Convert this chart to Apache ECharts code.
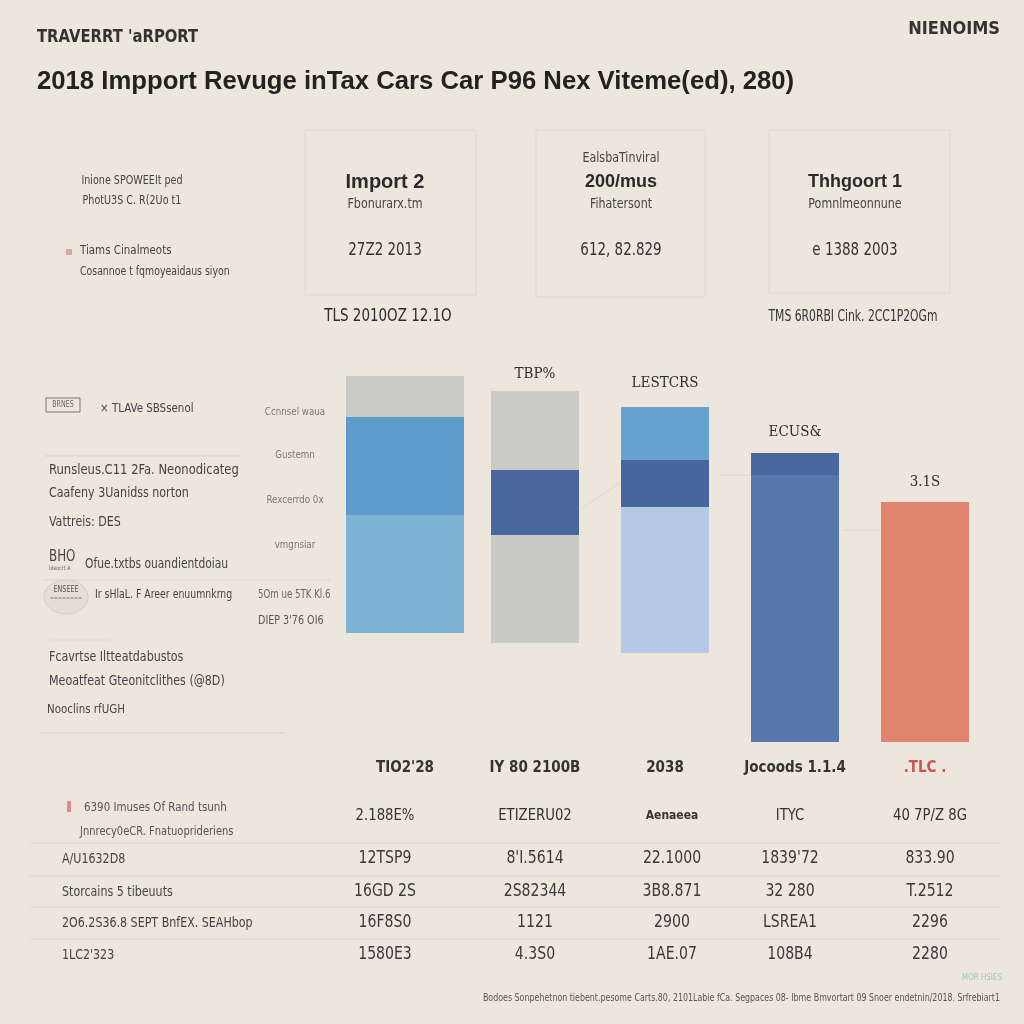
<!DOCTYPE html>
<html><head><meta charset="utf-8">
<script src="https://cdn.jsdelivr.net/npm/echarts@6/dist/echarts.min.js"></script>
<style>html,body{margin:0;background:#ede6dd}#c{width:1024px;height:1024px}</style>
</head><body><div id="c"></div>
<script>
// ---------- data ----------
const categories = ["TIO2'28", 'IY 80 2100B', '2038', 'Jocoods 1.1.4', '.TLC .'];
const baseValues = [27.25, 24.75, 22.25, 0, 0];
const segLower = [29.5, 27, 36.5, 66.75, 60];
const segMiddle = [24.5, 16.25, 11.75, 5.5, null];
const segUpper = [10.25, 19.75, 13.25, null, null];
const barTopLabels = ['', 'TBP%', 'LESTCRS', 'ECUS&', '3.1S'];

const sideLabels = ['Ccnnsel waua', 'Gustemn', 'Rexcerrdo 0x', 'vmgnsiar'];

const tableHeaders = ['2.188E%', 'ETIZERU02', 'Aenaeea', 'ITYC', '40 7P/Z 8G'];
const tableRowLabels = ['A/U1632D8', 'Storcains 5 tibeuuts', '2O6.2S36.8 SEPT BnfEX. SEAHbop', '1LC2\'323'];
const tableRow1 = ['12TSP9', "8'I.5614", '22.1000', "1839'72", '833.90'];
const tableRow2 = ['16GD 2S', '2S82344', '3B8.871', '32 280', 'T.2512'];
const tableRow3 = ['16F8S0', '1121', '2900', 'LSREA1', '2296'];
const tableRow4 = ['1580E3', '4.3S0', '1AE.07', '108B4', '2280'];

// ---------- styles ----------
const lowerColors = ['#7eb2d7', '#c9c9c7', '#b6c9e4', '#5677ab', '#e0846e'];
const middleColors = ['#5c9bcb', '#48679c', '#45669e', '#4a68a0'];
const upperColors = ['#cacac8', '#cacac8', '#67a1cf'];
const labelDist = [0, 9, 16, 13, 12];

const NARROW = "'DejaVu Sans Condensed','Liberation Sans Narrow',sans-serif";
const SANS = "'Liberation Sans',Arial,sans-serif";

function T(x, y, text, o) {
  o = o || {};
  const f = o.f || NARROW;
  return { type: 'text', x: x, y: y, silent: true, scaleX: o.sx != null ? o.sx : (f === NARROW ? 0.88 : 1),
    style: { text: text, fill: o.c || '#3a3a3a', font: (o.w || 'normal') + ' ' + (o.s || 13) + 'px ' + f,
      textAlign: o.a || 'left', textVerticalAlign: 'middle' } };
}
function L(x1, y1, x2, y2, c, w) {
  return { type: 'line', silent: true, shape: { x1, y1, x2, y2 }, style: { stroke: c || '#d9d1c7', lineWidth: w || 1 } };
}
function R(x, y, w, h, stroke) {
  return { type: 'rect', silent: true, shape: { x, y, width: w, height: h }, style: { fill: 'none', stroke: stroke || '#e2dad0', lineWidth: 1 } };
}

const pick = (arr, inA) => arr.map((v, i) => ((i === 0) === inA ? v : null));
const colored = (arr, colors) => arr.map((v, i) => v == null ? null : { value: v, itemStyle: { color: colors[i] } });

const g = [];
// header
g.push(T(37, 38, "TRAVERRT 'aRPORT", { s: 17, w: 'bold', c: '#333', sx: 0.97 }));
g.push(T(1000, 29, 'NIENOIMS', { s: 18, w: 'bold', c: '#333', a: 'right', sx: 1.0 }));
g.push(T(37, 82, '2018 Impport Revuge inTax Cars Car P96 Nex Viteme(ed), 280)', { s: 25.7, w: 'bold', c: '#222', f: SANS }));
// left intro
g.push(T(132, 181, 'Inione SPOWEEIt ped', { s: 13, a: 'center', c: '#444', sx: 0.82 }));
g.push(T(132, 201, 'PhotU3S C. R(2Uo t1', { s: 13, a: 'center', c: '#444', sx: 0.82 }));
g.push({ type: 'rect', silent: true, shape: { x: 66, y: 249, width: 6, height: 6 }, style: { fill: '#d9a8a4' } });
g.push(T(80, 251, 'Tiams Cinalmeots', { s: 13, c: '#444' }));
g.push(T(80, 272, 'Cosannoe t fqmoyeaidaus siyon', { s: 13, c: '#444', sx: 0.8 }));
// boxes
g.push(R(305, 130, 171, 165));
g.push(R(536, 130, 169, 167));
g.push(R(769, 130, 181, 163));
g.push(T(385, 182, 'Import 2', { s: 20, w: 'bold', a: 'center', c: '#2a2a2a', f: SANS }));
g.push(T(385, 204, 'Fbonurarx.tm', { s: 14, a: 'center', c: '#444' }));
g.push(T(385, 251, '27Z2 2013', { s: 17, a: 'center', c: '#333' }));
g.push(T(621, 158, 'EalsbaTinviral', { s: 14, a: 'center', c: '#444' }));
g.push(T(621, 182, '200/mus', { s: 18, w: 'bold', a: 'center', c: '#2a2a2a', f: SANS }));
g.push(T(621, 204, 'Fihatersont', { s: 14, a: 'center', c: '#444' }));
g.push(T(621, 251, '612, 82.829', { s: 17, a: 'center', c: '#333' }));
g.push(T(855, 182, 'Thhgoort 1', { s: 18, w: 'bold', a: 'center', c: '#2a2a2a', f: SANS }));
g.push(T(855, 204, 'Pomnlmeonnune', { s: 14, a: 'center', c: '#444' }));
g.push(T(855, 251, 'e 1388 2003', { s: 17, a: 'center', c: '#333' }));
g.push(T(388, 317, 'TLS 2010OZ 12.1O', { s: 17, a: 'center', c: '#2a2a2a' }));
g.push(T(853, 317, 'TMS 6R0RBI Cink. 2CC1P2OGm', { s: 15, a: 'center', c: '#333', sx: 0.8 }));
// left side of chart
g.push(R(46, 398, 34, 14, '#777'));
g.push(T(63, 405, 'BRNES', { s: 8, a: 'center', c: '#666' }));
g.push(T(100, 409, '\u00d7 TLAVe SBSsenol', { s: 13, c: '#444' }));
g.push(L(45, 456, 240, 456));
g.push(T(49, 470, 'Runsleus.C11 2Fa. Neonodicateg', { s: 14, c: '#444', sx: 0.92 }));
g.push(T(49, 493, 'Caafeny 3Uanidss norton', { s: 14, c: '#444' }));
g.push(T(49, 522, 'Vattreis: DES', { s: 14, c: '#444' }));
g.push(T(49, 557, 'BHO', { s: 15, c: '#444' }));
g.push(T(49, 568, 'Ideocrt A', { s: 6, c: '#666' }));
g.push(T(85, 564, 'Ofue.txtbs ouandientdoiau', { s: 14, c: '#444', sx: 0.85 }));
g.push(L(45, 580, 330, 580));
g.push({ type: 'ellipse', silent: true, shape: { cx: 66, cy: 597, rx: 22, ry: 17 }, style: { fill: '#e6ded5', stroke: '#d4ccc2' } });
g.push(T(66, 590, 'ENSEEE', { s: 8, a: 'center', c: '#555' }));
g.push(T(66, 598, '========', { s: 6, a: 'center', c: '#777' }));
g.push(T(95, 595, 'Ir sHlaL. F Areer enuumnkrng', { s: 13, c: '#444', sx: 0.8 }));
g.push(T(258, 595, '5Om ue 5TK Kl.6', { s: 12, c: '#666', sx: 0.8 }));
g.push(T(258, 621, 'DIEP 3\'76 OI6', { s: 13, c: '#555', sx: 0.82 }));
g.push(L(50, 640, 110, 640, '#e2dad0'));
g.push(T(49, 657, 'Fcavrtse Iltteatdabustos', { s: 14, c: '#444' }));
g.push(T(49, 681, 'Meoatfeat Gteonitclithes (@8D)', { s: 14, c: '#444' }));
g.push(T(47, 710, 'Nooclins rfUGH', { s: 13, c: '#444' }));
g.push(L(40, 733, 285, 733));
sideLabels.forEach((s, i) => g.push(T(295, [412, 455, 500, 545][i], s, { s: 11, a: 'center', c: '#777' })));
// faint connectors
g.push(L(719, 475, 759, 475, '#ddd5cc'));
g.push(L(582, 508, 628, 478, '#e0d8ce'));
g.push(L(844, 530, 879, 530, '#e0d8ce'));
// table
g.push({ type: 'rect', silent: true, shape: { x: 67, y: 801, width: 4, height: 11 }, style: { fill: '#d98b8f' } });
g.push(T(84, 808, '6390 Imuses Of Rand tsunh', { s: 13, c: '#555' }));
g.push(T(80, 832, 'Jnnrecy0eCR. Fnatuoprideriens', { s: 13, c: '#555', sx: 0.85 }));
const colX = [385, 535, 672, 790, 930];
tableHeaders.forEach((h, i) => g.push(T(colX[i], 816, h, { s: i === 2 ? 13 : 16, a: 'center', c: '#333', w: i === 2 ? 'bold' : 'normal', sx: 0.92 })));
const rowY = [859, 892, 923, 955];
const rows = [tableRow1, tableRow2, tableRow3, tableRow4];
[843, 876, 907, 939].forEach(y => g.push(L(30, y, 1000, y, '#ddd5cb')));
tableRowLabels.forEach((s, i) => g.push(T(62, rowY[i], s, { s: 14, c: '#444' })));
rows.forEach((r, ri) => r.forEach((v, ci) => g.push(T(colX[ci], rowY[ri], v, { s: 17, a: 'center', c: '#3a3a3a', sx: 0.92 }))));
g.push(T(1002, 978, 'MOR HSIES', { s: 9, a: 'right', c: '#9cc3cc' }));
g.push(T(1000, 998, 'Bodoes Sonpehetnon tiebent.pesome Carts.80, 2101Labie fCa. Segpaces 08- Ibme Bmvortart 09 Snoer endetnin/2018. Srfrebiart1', { s: 10, a: 'right', c: '#555', sx: 0.88 }));

const chart = echarts.init(document.getElementById('c'));
const barB = (name, data) => ({ type: 'bar', name, stack: 'B', xAxisIndex: 1, barWidth: 88, data, silent: true });
const barA = (name, data) => ({ type: 'bar', name, stack: 'A', xAxisIndex: 0, barWidth: 118, data, silent: true });

chart.setOption({
  backgroundColor: '#ede6dd',
  animation: false,
  grid: { left: 340, right: 34, top: 342, bottom: 282 },
  xAxis: [
    { type: 'category', data: categories.map((c, i) => i === 4 ? { value: c, textStyle: { color: '#c9534f' } } : c),
      axisLine: { show: false }, axisTick: { show: false }, splitLine: { show: false },
      axisLabel: { interval: 0, margin: 19, fontSize: 15, color: '#333', fontFamily: NARROW, fontWeight: 'bold' } },
    { type: 'category', data: categories, show: false }
  ],
  yAxis: { type: 'value', min: 0, max: 100, show: false, splitLine: { show: false } },
  series: [
    barA('baseA', pick(baseValues, true).map(v => v == null ? null : { value: v, itemStyle: { color: 'transparent' } })),
    barA('lowerA', colored(pick(segLower, true), lowerColors)),
    barA('middleA', colored(pick(segMiddle, true), middleColors)),
    barA('upperA', colored(pick(segUpper, true), upperColors)),
    barB('baseB', pick(baseValues, false).map(v => v == null ? null : { value: v, itemStyle: { color: 'transparent' } })),
    barB('lowerB', colored(pick(segLower, false), lowerColors)),
    barB('middleB', colored(pick(segMiddle, false), middleColors)),
    barB('upperB', colored(pick(segUpper, false), upperColors)),
    barB('cap', barTopLabels.map((s, i) => i === 0 ? null : { value: 0, label: { distance: labelDist[i] } })),
  ].map(s => s.name === 'cap' ? Object.assign(s, {
    itemStyle: { color: 'transparent' },
    label: { show: true, position: 'top', formatter: p => barTopLabels[p.dataIndex], fontSize: 15, color: '#2e2e2e', fontFamily: "'DejaVu Serif Condensed','DejaVu Serif',serif" }
  }) : s),
  graphic: g
});
</script></body></html>
